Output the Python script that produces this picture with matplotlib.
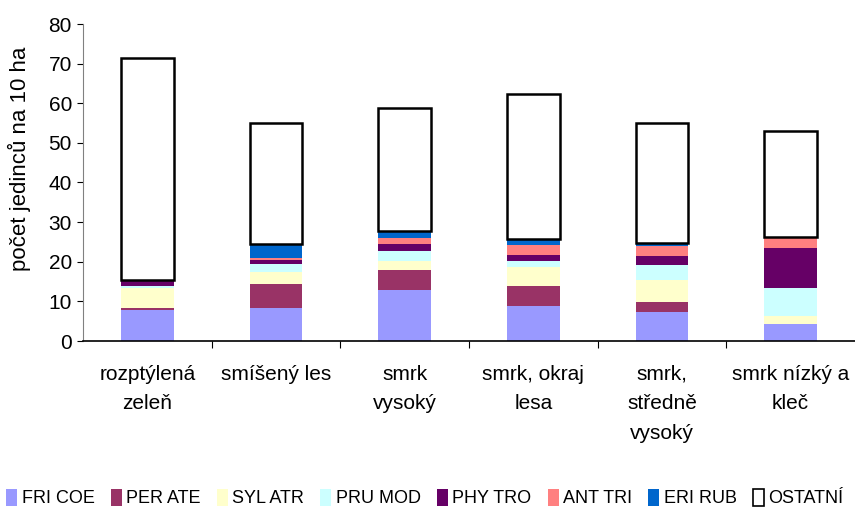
import matplotlib
matplotlib.use("Agg")
import matplotlib.pyplot as plt
import numpy as np

plt.rcParams['font.family'] = ['Liberation Sans', 'DejaVu Sans']

categories = ["rozptýlená\nzeleň", "smíšený les", "smrk\nvysoký",
              "smrk, okraj\nlesa", "smrk,\nstředně\nvysoký", "smrk nízký a\nkleč"]

series_names = ["FRI COE", "PER ATE", "SYL ATR", "PRU MOD",
                "PHY TRO", "ANT TRI", "ERI RUB", "OSTATNÍ"]

fri_coe = [7.9, 8.4, 12.9, 8.8, 7.3, 4.3]
per_ate = [0.5, 6.0, 5.0, 5.0, 2.5, 0.0]
syl_atr = [5.0, 3.0, 2.4, 5.0, 5.5, 1.9]
pru_mod = [0.5, 2.0, 2.5, 1.5, 3.9, 7.1]
phy_tro = [1.4, 1.0, 1.6, 1.5, 2.3, 10.1]
ant_tri = [0.0, 0.5, 1.5, 2.5, 2.4, 2.5]
eri_rub = [0.0, 3.5, 1.9, 1.4, 0.8, 0.4]
ostatni = [56.0, 30.6, 31.1, 36.7, 30.2, 26.6]

series = [fri_coe, per_ate, syl_atr, pru_mod, phy_tro, ant_tri, eri_rub, ostatni]
colors = ["#9999FF", "#993366", "#FFFFCC", "#CCFFFF",
          "#660066", "#FF8080", "#0066CC", "#FFFFFF"]

fig = plt.figure(figsize=(8.55, 5.11), dpi=100)
ax = fig.add_axes([83/855, 1 - 341/511, 772/855, 317/511])

x = np.arange(len(categories))
bottom = np.zeros(len(categories))
handles = []
for name, vals, col in zip(series_names, series, colors):
    vals = np.array(vals)
    if name == "OSTATNÍ":
        b = ax.bar(x, vals, 0.41, bottom=bottom, color=col, edgecolor="black",
                   linewidth=1.8, label=name, zorder=3)
    else:
        b = ax.bar(x, vals, 0.41, bottom=bottom, color=col, linewidth=0,
                   label=name, zorder=2)
    handles.append(b)
    bottom += vals

ax.set_xlim(-0.5, len(categories) - 0.5)
ax.set_ylim(0, 80)
ax.set_yticks(np.arange(0, 81, 10))
ax.tick_params(axis='y', labelsize=15, length=4, width=0.8, direction='out', pad=4)

# category labels centred on bars, tick marks on category boundaries
ax.set_xticks(x)
ax.set_xticklabels(categories, fontsize=15, linespacing=1.7)
ax.tick_params(axis='x', length=0, pad=17)
ax.set_xticks(np.arange(0.5, len(categories) - 0.5, 1), minor=True)
ax.tick_params(axis='x', which='minor', length=5, width=0.8, direction='out')

for s in ["top", "right"]:
    ax.spines[s].set_visible(False)
ax.spines["left"].set_color("#808080")
ax.spines["bottom"].set_color("black")
ax.spines["bottom"].set_linewidth(1.2)

ax.set_ylabel("počet jedinců na 10 ha", fontsize=16)
ax.yaxis.set_label_coords(-0.068, 0.574)

leg = fig.legend(handles=handles, labels=series_names, loc="center",
                 bbox_to_anchor=(0.497, 1 - 498/511), ncol=8, frameon=False,
                 fontsize=13, handlelength=0.6, handleheight=1.1,
                 handletextpad=0.25, columnspacing=0.9)
for h in leg.legend_handles:
    h.set_linewidth(0)
leg.legend_handles[-1].set_linewidth(1.2)
leg.legend_handles[-1].set_edgecolor("black")

fig.savefig("out.png", dpi=100)
